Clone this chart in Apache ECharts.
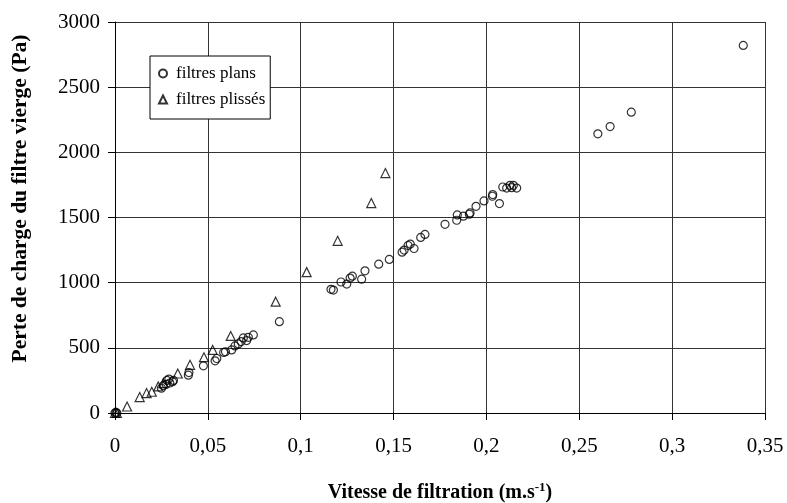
<!DOCTYPE html>
<html>
<head>
<meta charset="utf-8">
<script src="https://cdn.jsdelivr.net/npm/echarts@6/dist/echarts.min.js"></script>
<style>html,body{margin:0;padding:0;background:#fff;}#c{width:787px;height:503px;}</style>
</head>
<body>
<div id="c"></div>
<script>
// Data
var seriesNames = ['filtres plans', 'filtres plissés'];
var plansX = [0,0.0005,0.001,0.025,0.026,0.0275,0.028,0.029,0.0295,0.031,0.0315,0.0395,0.0398,0.0476,0.0539,0.0548,0.0585,0.0595,0.0628,0.0646,0.0664,0.0679,0.0691,0.0709,0.0718,0.0745,0.0885,0.1163,0.1176,0.1217,0.1248,0.1266,0.1278,0.1328,0.1346,0.142,0.1477,0.1546,0.1557,0.1578,0.159,0.161,0.1646,0.1669,0.1777,0.184,0.1843,0.1876,0.1908,0.1912,0.1944,0.1987,0.2032,0.2034,0.207,0.2088,0.2109,0.2127,0.2136,0.2145,0.2163,0.26,0.2666,0.278,0.3383];
var plansY = [0,5,0,190,210,220,250,260,230,240,250,290,310,362,400,418,465,470,484,515,530,548,576,556,581,599,701,949,943,1005,989,1035,1050,1027,1091,1142,1178,1234,1250,1285,1296,1262,1347,1370,1448,1479,1520,1510,1525,1535,1586,1627,1663,1676,1607,1734,1726,1747,1729,1747,1726,2142,2198,2308,2820];
var plissesX = [0,0.001,0.0065,0.0133,0.017,0.0198,0.0233,0.026,0.0338,0.0404,0.0479,0.0526,0.0623,0.0865,0.1032,0.1199,0.138,0.1456];
var plissesY = [0,0,50,122,153,163,204,229,303,370,428,484,591,854,1081,1321,1611,1841];
var xTickMin = 0, xTickMax = 0.35, xTickStep = 0.05;
var yTickMin = 0, yTickMax = 3000, yTickStep = 500;

function pairs(xs, ys){ return xs.map(function(x,i){ return [x, ys[i]]; }); }

var serif = '"Liberation Serif", "DejaVu Serif", serif';
var chart = echarts.init(document.getElementById('c'), null, {renderer:'canvas', width: 787, height: 503});
chart.setOption({
  animation: false,
  backgroundColor: '#fff',
  grid: {left: 115, right: 22, top: 22, bottom: 90, containLabel: false, outerBoundsMode: 'none'},
  legend: {
    orient: 'vertical', left: 150, top: 56,
    data: seriesNames,
    backgroundColor: '#fff', borderColor: '#000', borderWidth: 1,
    padding: [9, 5, 11, 8], itemGap: 9, itemWidth: 8, itemHeight: 8,
    textStyle: {fontFamily: serif, fontSize: 17, color: '#000', padding: [0, 0, 0, 4]}
  },
  xAxis: {
    type: 'value', min: xTickMin, max: xTickMax, interval: xTickStep,
    axisLine: {show: true, onZero: false, lineStyle: {color: '#000', width: 1}},
    axisTick: {show: true, inside: false, length: 7, lineStyle: {color: '#000'}},
    axisLabel: {margin: 23, fontFamily: serif, fontSize: 21, color: '#000',
      formatter: function(v){ return parseFloat(v.toFixed(2)).toString().replace('.', ','); }},
    splitLine: {show: true, lineStyle: {color: '#333', width: 1}},
    name: 'Vitesse de filtration (m.s{sup|-1})',
    nameLocation: 'middle', nameGap: 68,
    nameTextStyle: {fontFamily: serif, fontSize: 20, fontWeight: 'bold', color: '#000',
      rich: {sup: {fontFamily: serif, fontSize: 13, fontWeight: 'bold', color: '#000', padding: [0,0,10,0]}}}
  },
  yAxis: {
    type: 'value', min: yTickMin, max: yTickMax, interval: yTickStep,
    axisLine: {show: true, onZero: false, lineStyle: {color: '#000', width: 1}},
    axisTick: {show: true, inside: false, length: 7, lineStyle: {color: '#000'}},
    axisLabel: {margin: 15, fontFamily: serif, fontSize: 21, color: '#000',
      formatter: function(v){ return String(v); }},
    splitLine: {show: true, lineStyle: {color: '#333', width: 1}},
    name: 'Perte de charge du filtre vierge (Pa)',
    nameLocation: 'middle', nameGap: 84,
    nameTextStyle: {fontFamily: serif, fontSize: 21.5, fontWeight: 'bold', color: '#000', padding: [0, 0, 0, 38]}
  },
  series: [
    {name: seriesNames[0], type: 'scatter', symbol: 'circle', symbolSize: 8,
     itemStyle: {color: 'rgba(255,255,255,0)', borderColor: '#000', borderWidth: 1.2},
     data: pairs(plansX, plansY)},
    {name: seriesNames[1], type: 'scatter', symbol: 'triangle', symbolSize: 9,
     itemStyle: {color: 'rgba(255,255,255,0)', borderColor: '#000', borderWidth: 1.2},
     data: pairs(plissesX, plissesY)}
  ]
});
</script>
</body>
</html>
